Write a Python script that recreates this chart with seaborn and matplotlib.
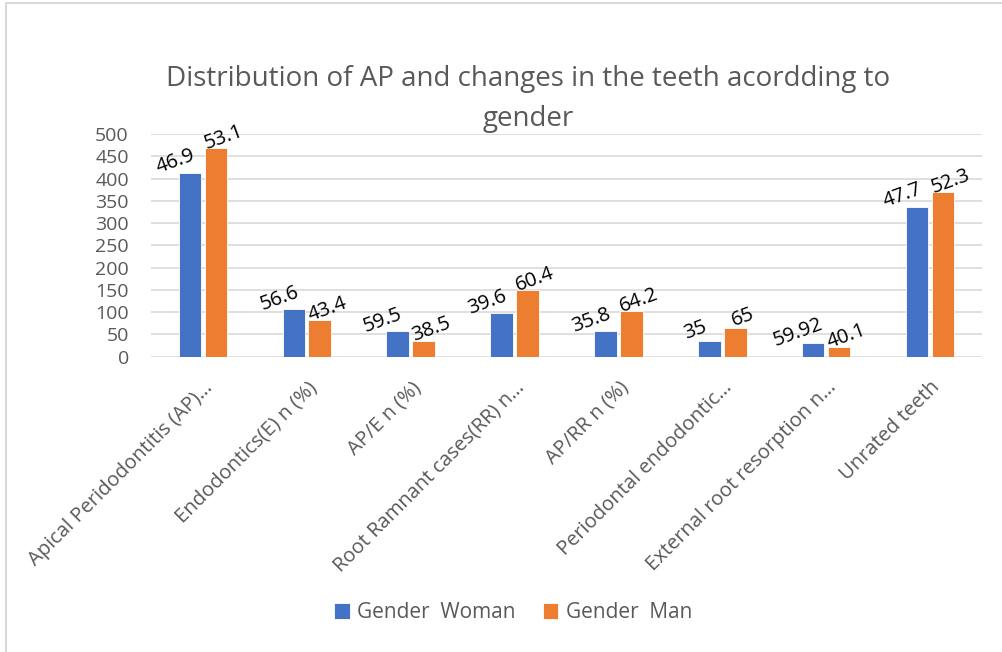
import matplotlib
matplotlib.use("Agg")
import matplotlib.pyplot as plt
import seaborn as sns
import pandas as pd
from matplotlib.lines import Line2D

categories = ["Apical Peridodontitis (AP)…", "Endodontics(E) n (%)", "AP/E n (%)",
              "Root Ramnant cases(RR) n…", "AP/RR n (%)", "Periodontal endodontic…",
              "External root resorption n…", "Unrated teeth"]
woman_counts = [413, 107, 57, 98, 57, 35, 31, 337]
man_counts = [468, 82, 36, 149, 103, 65, 21, 369]
woman_labels = ["46.9", "56.6", "59.5", "39.6", "35.8", "35", "59.92", "47.7"]
man_labels = ["53.1", "43.4", "38.5", "60.4", "64.2", "65", "40.1", "52.3"]
series_names = ["Gender  Woman", "Gender  Man"]
yticks = [0, 50, 100, 150, 200, 250, 300, 350, 400, 450, 500]

BLUE = "#4472C4"
ORANGE = "#ED7D31"
GRAY = "#595959"

sns.set_theme(style="white")
plt.rcParams["font.family"] = ["Open Sans", "DejaVu Sans"]

df = pd.DataFrame({
    "category": categories * 2,
    "count": woman_counts + man_counts,
    "gender": [series_names[0]] * len(categories) + [series_names[1]] * len(categories),
})

fig = plt.figure(figsize=(10.02, 6.52), dpi=100)
ax = fig.add_axes([0.1507, 0.4529, 0.8293, 0.3416])

sns.barplot(data=df, x="category", y="count", hue="gender", order=categories,
            hue_order=series_names, palette=[BLUE, ORANGE], width=0.5, gap=0.13,
            saturation=1, edgecolor="white", linewidth=0.6, ax=ax, legend=True, zorder=3)

ax.set_ylim(0, 500)
ax.set_xlim(-0.5, len(categories) - 0.5)
ax.set_yticks(yticks)
ax.set_yticklabels([str(v) for v in yticks], fontsize=14, color=GRAY)
ax.yaxis.grid(True, color="#D9D9D9", linewidth=1.2, zorder=0)
ax.set_axisbelow(True)
for s in ax.spines.values():
    s.set_visible(False)
ax.tick_params(axis="y", length=0, pad=16)
ax.tick_params(axis="x", length=0, pad=15)
ax.set_xlabel("")
ax.set_ylabel("")
ax.set_xticks(range(len(categories)))
ax.set_xticklabels(categories, rotation=45, ha="right", rotation_mode="anchor",
                   fontsize=14.5, color=GRAY)

# data labels
for container, labels, dx in zip(ax.containers, [woman_labels, man_labels], [-8, 8]):
    for bar, lab in zip(container, labels):
        x = bar.get_x() + bar.get_width() / 2
        y = bar.get_height()
        ax.annotate(lab, (x, y), xytext=(dx, 1), textcoords="offset points",
                    ha="center", va="bottom", rotation=20, rotation_mode="anchor",
                    fontsize=14.5, color="black", zorder=5)

# legend
handles, leg_labels = ax.get_legend_handles_labels()
ax.legend(handles, leg_labels, loc="center", bbox_to_anchor=(0.512, 0.06),
          bbox_transform=fig.transFigure, ncol=2, frameon=False, fontsize=15,
          handlelength=0.75, handleheight=0.75, handletextpad=0.35,
          columnspacing=1.3, labelcolor=GRAY)

fig.text(0.527, 0.848, "Distribution of AP and changes in the teeth acordding to\ngender",
         ha="center", va="center", fontsize=20, color=GRAY, linespacing=1.55)

# chart border (top and left edges visible)
fig.add_artist(Line2D([0.006, 0.006], [0.0, 0.996], transform=fig.transFigure,
                      color="#D9D9D9", linewidth=1.5))
fig.add_artist(Line2D([0.006, 1.0], [0.996, 0.996], transform=fig.transFigure,
                      color="#D9D9D9", linewidth=1.5))

fig.savefig("out.png", dpi=100, facecolor="white")
